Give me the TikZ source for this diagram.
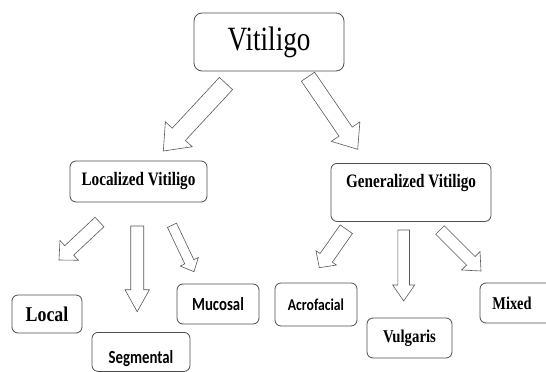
\documentclass[tikz,border=0pt]{standalone}
\usepackage{fontspec}
\setmainfont{Liberation Serif}
\newfontfamily\calibrifont{Carlito}
\usetikzlibrary{calc}
\newcommand\blockarr[5]{%
  \coordinate (ba-b) at ($(#2)!#5!(#1)$);
  \draw[arr] ($(#1)!#3!90:(#2)$) -- ($(ba-b)!#3!90:(#2)$) -- ($(ba-b)!#4!90:(#2)$) -- (#2)
    -- ($(ba-b)!#4!-90:(#2)$) -- ($(ba-b)!#3!-90:(#2)$) -- ($(#1)!#3!-90:(#2)$) -- cycle;}
\newcommand\sq[2][0.8]{\scalebox{#1}[1]{#2}}
\begin{document}
\begin{tikzpicture}[x=1pt,y=-1pt,
  box/.style={draw=black!70, line width=0.8pt, rounded corners=6pt, inner sep=0pt, align=center},
  arr/.style={draw=black!65, line width=0.6pt, fill=white},
  serb/.style={font=\bfseries\fontsize{19}{22}\selectfont},
  calb/.style={font=\calibrifont\bfseries\fontsize{18.5}{22}\selectfont}]
\useasboundingbox (0,0) rectangle (546,372);
% boxes
\node[box, rounded corners=8pt, minimum width=150pt, minimum height=58pt,
  font=\fontsize{34}{40}\selectfont] (vit) at (269,42) {\sq{Vitiligo}};
\node[box, minimum width=137pt, minimum height=41pt, serb] (loc) at (138.5,181.5) {\sq{Localized Vitiligo}};
\node[box, minimum width=160pt, text height=24pt, text depth=34pt, anchor=north, serb] (gen) at (411,163) {\sq{Generalized Vitiligo}};
\node[box, minimum width=70pt, minimum height=38pt, font=\bfseries\fontsize{21}{24}\selectfont] (local) at (47,314) {\sq[0.85]{Local}};
\node[box, minimum width=98pt, text height=31pt, text depth=8pt, anchor=north, calb] (seg) at (141,332) {\sq{Segmental}};
\node[box, minimum width=82pt, minimum height=40pt, calb] (muc) at (218,304) {\sq{Mucosal}};
\node[box, minimum width=82pt, minimum height=43pt, font=\calibrifont\bfseries\fontsize{16.5}{20}\selectfont] (acro) at (316,304.5) {\sq[0.83]{Acrofacial}};
\node[box, minimum width=85pt, minimum height=40pt, font=\bfseries\fontsize{18}{22}\selectfont] (vul) at (409.5,338) {\sq[0.82]{Vulgaris}};
\node[box, minimum width=72pt, minimum height=40pt, font=\bfseries\fontsize{18}{22}\selectfont] (mix) at (516,303) {\sq{Mixed}\hspace{8pt}};
% arrow end points
\coordinate (a1s) at (226,83.5);   \coordinate (a1e) at (163.3,151);
\coordinate (a2s) at (308,76.7);   \coordinate (a2e) at (357.7,149.3);
\coordinate (a3s) at (99.5,222);   \coordinate (a3e) at (59,260);
\coordinate (a4s) at (137.2,226);  \coordinate (a4e) at (137.2,311.7);
\coordinate (a5s) at (172,225.3);  \coordinate (a5e) at (194,271.7);
\coordinate (a6s) at (346.3,229.2);\coordinate (a6e) at (319.3,267.7);
\coordinate (a7s) at (403.7,230);  \coordinate (a7e) at (403.7,301);
\coordinate (a8s) at (440,230);    \coordinate (a8e) at (481,271);
\blockarr{a1s}{a1e}{9pt}{18.3pt}{22.8pt}
\blockarr{a2s}{a2e}{8pt}{17.3pt}{21.4pt}
\blockarr{a3s}{a3e}{6.5pt}{13.5pt}{14pt}
\blockarr{a4s}{a4e}{6.5pt}{12.2pt}{22pt}
\blockarr{a5s}{a5e}{5pt}{10pt}{11pt}
\blockarr{a6s}{a6e}{7.5pt}{12.5pt}{12pt}
\blockarr{a7s}{a7e}{5.8pt}{11pt}{16pt}
\blockarr{a8s}{a8e}{6pt}{13pt}{14.4pt}
\end{tikzpicture}
\end{document}
